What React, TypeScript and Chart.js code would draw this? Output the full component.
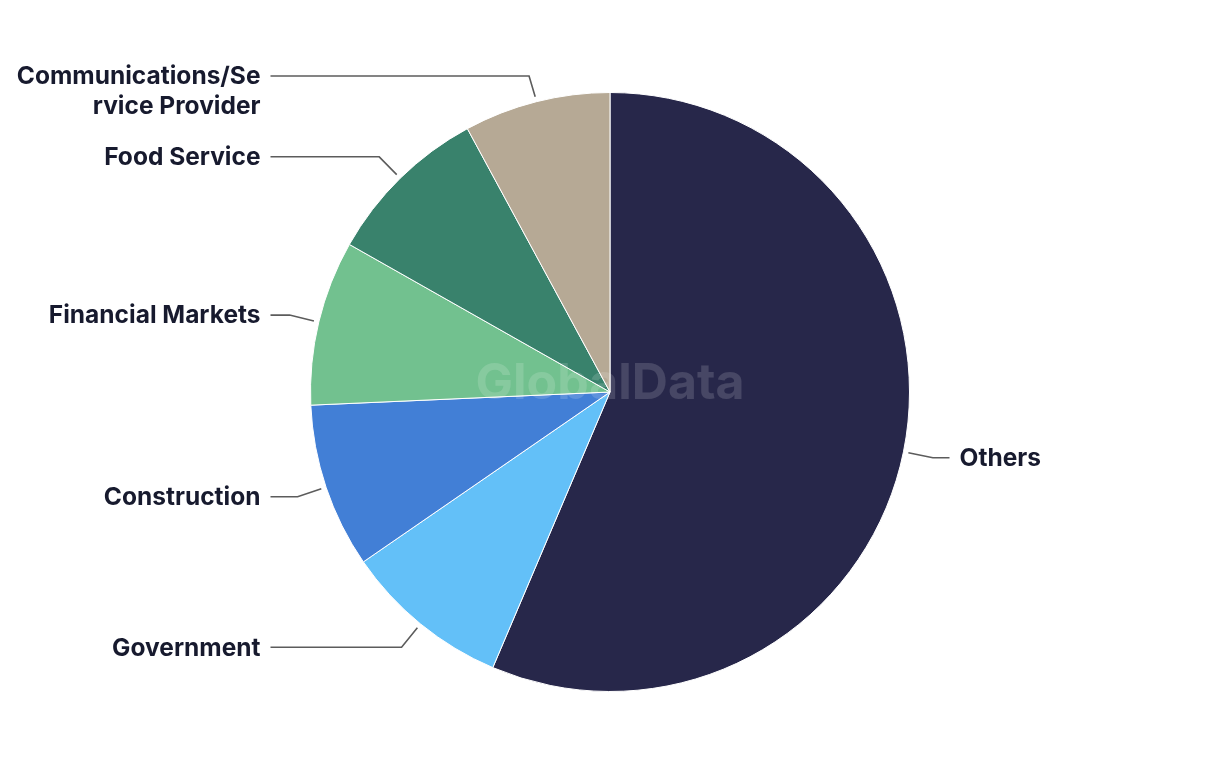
import React, { useEffect, useRef } from "react";
import { Chart, registerables } from "chart.js";

Chart.register(...registerables);

const categories = [
  "Others",
  "Government",
  "Construction",
  "Financial Markets",
  "Food Service",
  "Communications/Service Provider",
];
const values = [56.4, 9.0, 8.9, 8.9, 8.9, 7.9];
const colors = ["#27274a", "#63c0f8", "#427fd6", "#72c18f", "#39826c", "#b6a995"];

const LABEL_FONT = "700 24.5px Inter, 'Noto Sans', sans-serif";
const TEXT_COLOR = "#171a2e";

function wrapText(ctx: CanvasRenderingContext2D, text: string, maxW: number): string[] {
  const words = text.split(" ");
  const lines: string[] = [];
  let cur = "";
  const pushWord = (w: string) => {
    const test = cur ? cur + " " + w : w;
    if (ctx.measureText(test).width <= maxW) {
      cur = test;
      return;
    }
    if (cur) {
      lines.push(cur);
      cur = "";
    }
    if (ctx.measureText(w).width <= maxW) {
      cur = w;
      return;
    }
    let part = "";
    for (const ch of w) {
      if (ctx.measureText(part + ch).width > maxW && part) {
        lines.push(part);
        part = ch;
      } else part += ch;
    }
    cur = part;
  };
  words.forEach(pushWord);
  if (cur) lines.push(cur);
  return lines;
}

const labelPlugin = {
  id: "pieLabels",
  afterDatasetsDraw(chart: any) {
    const ctx: CanvasRenderingContext2D = chart.ctx;
    const meta = chart.getDatasetMeta(0);
    const first = meta.data[0];
    const cx = first.x;
    const cy = first.y;
    const r = first.outerRadius;
    ctx.save();
    ctx.font = "700 50px Inter, 'Noto Sans', sans-serif";
    ctx.fillStyle = "rgba(255,255,255,0.15)";
    ctx.textAlign = "center";
    ctx.textBaseline = "middle";
    ctx.fillText("GlobalData", cx, cy - 8);
    ctx.restore();

    ctx.save();
    ctx.font = LABEL_FONT;
    ctx.lineWidth = 1.6;
    ctx.strokeStyle = "#5c5c5c";
    meta.data.forEach((arc: any, i: number) => {
      const mid = (arc.startAngle + arc.endAngle) / 2;
      const cos = Math.cos(mid);
      const sin = Math.sin(mid);
      const sx = cx + cos * (r + 5);
      const sy = cy + sin * (r + 5);
      const ex = cx + cos * (r + 30);
      let ey = cy + sin * (r + 30);
      ey = Math.max(ey, 76);
      const left = cos < 0;
      const colX = left ? cx - r - 40 : cx + r + 40;
      ctx.beginPath();
      ctx.moveTo(sx, sy);
      ctx.lineTo(ex, ey);
      ctx.lineTo(colX, ey);
      ctx.stroke();
      ctx.fillStyle = TEXT_COLOR;
      ctx.textBaseline = "middle";
      ctx.textAlign = left ? "right" : "left";
      const tx = left ? colX - 10 : colX + 10;
      const maxW = left ? tx - 8 : chart.width - tx - 8;
      const lines = wrapText(ctx, categories[i], maxW);
      lines.forEach((ln, k) => ctx.fillText(ln, tx, ey + 1 + k * 30));
    });
    ctx.restore();
  },
};

export default function App() {
  const ref = useRef<HTMLCanvasElement>(null);
  useEffect(() => {
    if (!ref.current) return;
    const chart = new Chart(ref.current, {
      type: "pie",
      data: {
        labels: categories,
        datasets: [
          {
            data: values,
            backgroundColor: colors,
            borderColor: "#ffffff",
            borderWidth: 1,
          },
        ],
      },
      options: {
        animation: false,
        responsive: false,
        layout: { padding: { top: 92, bottom: 72, left: 0, right: 0 } },
        plugins: { legend: { display: false }, tooltip: { enabled: false } },
      },
      plugins: [labelPlugin],
    });
    return () => chart.destroy();
  }, []);
  return (
    <div style={{ position: "fixed", left: 0, top: 0, width: 1220, height: 764, background: "#fff" }}>
      <canvas ref={ref} width={1220} height={764} style={{ width: 1220, height: 764 }} />
    </div>
  );
}
